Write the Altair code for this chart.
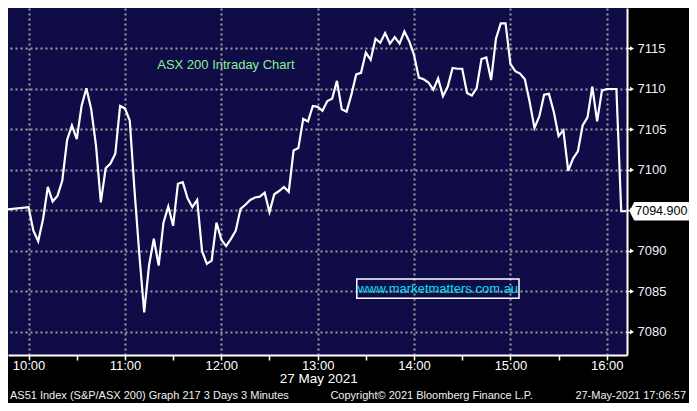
import altair as alt
import pandas as pd

# ---------------- data ----------------
pre_open_minute = 585          # minutes after midnight
pre_open_value = 7095.1
first_bar_minute = 600         # 10:00
bar_minutes = 3                # "3 Minutes" bars
values = [
    7095.4, 7092.5, 7091.2, 7093.9, 7097.9, 7096.1, 7096.8, 7098.7, 7103.7, 7105.5,
    7103.8, 7107.9, 7110.1, 7107.5, 7103.0, 7096.0, 7100.2, 7100.8, 7102.0, 7107.9,
    7107.6, 7106.1, 7097.4, 7089.5, 7082.4, 7088.2, 7091.5, 7088.2, 7093.5, 7095.5,
    7093.1, 7098.3, 7098.5, 7096.5, 7095.4, 7096.3, 7090.0, 7088.4, 7088.8, 7093.5,
    7091.4, 7090.6, 7091.5, 7092.5, 7095.2, 7095.7, 7096.3, 7096.6, 7096.7, 7097.2,
    7094.8, 7097.0, 7097.4, 7097.9, 7097.3, 7102.4, 7102.7, 7106.3, 7106.0, 7107.9,
    7107.8, 7107.3, 7108.5, 7108.8, 7111.0, 7107.5, 7107.2, 7109.3, 7111.8, 7112.0,
    7114.5, 7113.6, 7116.2, 7115.7, 7116.9, 7115.6, 7116.4, 7115.6, 7117.1, 7115.9,
    7114.2, 7111.4, 7111.2, 7110.8, 7109.9, 7111.3, 7109.1, 7110.3, 7112.6, 7112.5,
    7112.5, 7109.5, 7109.2, 7110.1, 7113.7, 7113.9, 7111.1, 7116.2, 7118.1, 7118.1,
    7113.1, 7112.2, 7111.9, 7111.2, 7108.4, 7105.2, 7106.6, 7109.3, 7109.4, 7107.2,
    7104.2, 7104.9, 7099.9, 7101.4, 7102.3, 7105.5, 7106.5, 7110.3, 7106.0, 7109.8,
    7110.0, 7110.0, 7110.0, 7094.9, 7094.9,
]
last_price = 7094.9
last_price_label = "7094.900"

time_ticks = [600, 630, 660, 690, 720, 750, 780, 810, 840, 870, 900, 930, 960]
price_ticks = [7080, 7082.5, 7085, 7087.5, 7090, 7092.5, 7095, 7097.5,
               7100, 7102.5, 7105, 7107.5, 7110, 7112.5, 7115, 7117.5]
major_prices = [7080, 7085, 7090, 7095, 7100, 7105, 7110, 7115]
x_domain = [587.2, 972.6]
y_domain = [7077.15, 7120.0]

title_text = "ASX 200 Intraday Chart"
watermark_text = "www.marketmatters.com.au"
date_text = "27 May 2021"
footer_left = "AS51 Index (S&P/ASX 200) Graph 217 3 Days 3 Minutes"
footer_mid = "Copyright\u00a9 2021 Bloomberg Finance L.P."
footer_right = "27-May-2021 17:06:57"

# ---------------- layout ----------------
TOTAL_W, TOTAL_H = 681, 395
SX, SY = TOTAL_W / 697, TOTAL_H / 411
W = round(634 * SX)
H = round(361 * SY)

NAVY = "#0f0c48"
GRID = "#a0a0a0"
FONT = "Liberation Sans, Arial, sans-serif"

minutes = [pre_open_minute] + [first_bar_minute + bar_minutes * i for i in range(len(values))]
prices = [pre_open_value] + values
df = pd.DataFrame({"minute": minutes, "price": prices})

xscale = alt.Scale(domain=x_domain, nice=False, zero=False)
yscale = alt.Scale(domain=y_domain, nice=False, zero=False)

x_axis = alt.Axis(
    orient="bottom", values=time_ticks, title=None,
    labelExpr="datum.value % 60 == 0 ? floor(datum.value / 60) + ':00' : ''",
    labelOverlap=False, labelFlush=False,
    labelColor="white", labelFont=FONT, labelFontSize=13, labelPadding=-1,
    domainColor="white", domainWidth=2,
    tickColor="white", tickSize=5, tickWidth=1.5,
    grid=True, gridColor=GRID, gridDash=[2, 3], gridWidth=2,
    gridOpacity={"condition": {"test": "datum.value % 60 != 0", "value": 0}, "value": 1},
)
# labels every 5 points; the one hidden under the last-price box is left out
y_axis = alt.Axis(
    orient="right", values=price_ticks, title=None,
    labelExpr=(f"datum.value % 5 == 0 && abs(datum.value - {last_price}) > 2.5"
               " ? format(datum.value, 'd') : ''"),
    labelOverlap=False, labelFlush=False,
    labelColor="#eeeeff", labelFont=FONT, labelFontSize=13, labelPadding=6,
    domainColor="white", domainWidth=2,
    tickColor="white", tickSize=4, tickWidth=1.5,
    grid=True, gridColor=GRID, gridDash=[2, 3], gridWidth=2,
    gridOpacity={"condition": {"test": "datum.value % 5 != 0", "value": 0}, "value": 1},
)

line = alt.Chart(df).mark_line(color="white", strokeWidth=2.2, clip=True).encode(
    x=alt.X("minute:Q", scale=xscale, axis=x_axis),
    y=alt.Y("price:Q", scale=yscale, axis=y_axis),
)

arrows = alt.Chart(pd.DataFrame({"price": major_prices})).mark_point(
    shape="triangle-right", filled=True, color="white", size=22, opacity=1
).encode(
    x=alt.value(W + 5),
    y=alt.Y("price:Q", scale=yscale),
)

last_df = pd.DataFrame({"price": [last_price], "label": [last_price_label]})
last_box = alt.Chart(last_df).mark_point(
    shape="M -1 0 L -0.84 -0.31 L 1 -0.31 L 1 0.31 L -0.84 0.31 Z",
    filled=True, color="white", opacity=1, size=59.5 ** 2,
).encode(
    x=alt.value(666.5 * SX),
    y=alt.Y("price:Q", scale=yscale),
)
last_text = alt.Chart(last_df).mark_text(
    align="left", baseline="middle", color="black", font=FONT, fontSize=12.5
).encode(
    x=alt.value(642 * SX),
    y=alt.Y("price:Q", scale=yscale),
    text="label:N",
)

def label(text, x, y, color, size, align="center", font=FONT):
    return alt.Chart(pd.DataFrame({"t": [text]})).mark_text(
        align=align, baseline="middle", color=color, font=font, fontSize=size
    ).encode(x=alt.value(x), y=alt.value(y), text="t:N")

title = label(title_text, 223 * SX, 59 * SY, "#8cf08c", 13)
wm_box = alt.Chart(pd.DataFrame({"t": [watermark_text]})).mark_rect(
    fill=None, stroke="white", strokeWidth=1.5
).encode(
    x=alt.value(357 * SX), x2=alt.value(523 * SX),
    y=alt.value(282 * SY), y2=alt.value(302 * SY),
)
wm_text = label(watermark_text, 440 * SX, 292 * SY, "#00e0f0", 13)
date_lbl = label(date_text, 318 * SX, 386 * SY, "white", 13.5)
foot_l = label(footer_left, 2 * SX, 404 * SY, "#f0f0f0", 11, align="left")
foot_m = label(footer_mid, 330 * SX, 404 * SY, "#f0f0f0", 11, align="left")
foot_r = label(footer_right, 694 * SX, 404 * SY, "#f0f0f0", 11, align="right")

chart = alt.layer(
    line, arrows, last_box, last_text, title, wm_box, wm_text,
    date_lbl, foot_l, foot_m, foot_r,
).properties(
    width=W, height=H,
    background="black",
    padding={"left": 0, "top": 0, "right": TOTAL_W - W, "bottom": TOTAL_H - H},
    autosize=alt.AutoSizeParams(type="none"),
).configure_view(
    fill=NAVY, strokeWidth=0
)

chart.save("out.html", embed_options={"renderer": "svg", "actions": False})
